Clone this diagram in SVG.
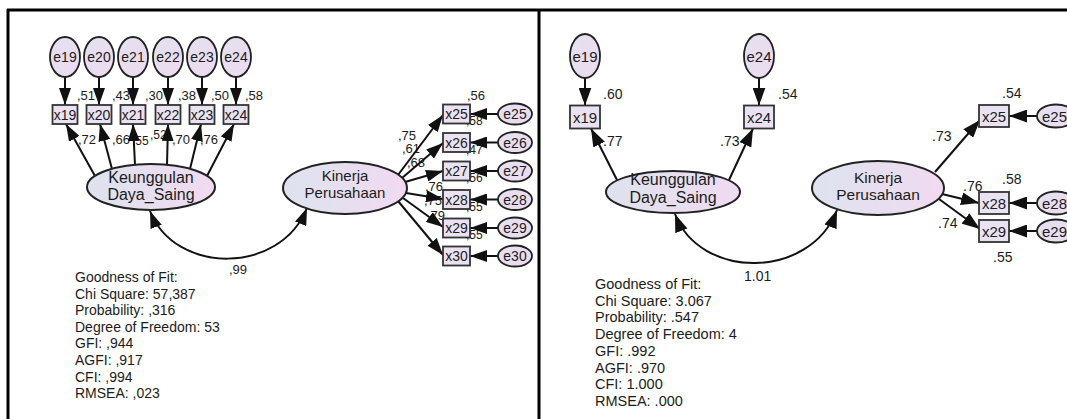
<svg xmlns="http://www.w3.org/2000/svg" width="1067" height="419" viewBox="0 0 1067 419">
<defs>
<style>
text{font-family:"Liberation Sans",Arial,sans-serif;fill:#1c1c1c}
.lat{stroke:#222;stroke-width:2}
.box{fill:#e9e2f3;stroke:#333;stroke-width:1.8}
.err{fill:url(#eg);stroke:#222;stroke-width:1.8}
.ln{fill:none;stroke:#111;stroke-width:2}
.nt{text-anchor:middle}
.lbl{font-size:13px}
.lblr{font-size:14px}
.fit{font-size:14px}
.fitr{font-size:14.5px}
.frame{stroke:#000;stroke-width:3;fill:none}
</style>
<linearGradient id="lg" x1="0" y1="0" x2="1" y2="0">
<stop offset="0" stop-color="#dde3ee"/>
<stop offset="1" stop-color="#f1daf1"/>
</linearGradient>
<linearGradient id="eg" x1="0" y1="0" x2="1" y2="1">
<stop offset="0" stop-color="#e3e1ef"/>
<stop offset="1" stop-color="#eedaf0"/>
</linearGradient>
<marker id="a" viewBox="0 0 17 12" markerWidth="17" markerHeight="12" refX="17" refY="6" orient="auto-start-reverse" markerUnits="userSpaceOnUse">
<path d="M0,0L17,6L0,12z" fill="#111"/>
</marker>
<marker id="b" viewBox="0 0 18 13" markerWidth="18" markerHeight="13" refX="18" refY="6.5" orient="auto-start-reverse" markerUnits="userSpaceOnUse">
<path d="M0,0L18,6.5L0,13z" fill="#111"/>
</marker>
</defs>

<g id="frame">
<line class="frame" x1="7" y1="10" x2="1067" y2="10"/>
<line class="frame" x1="8" y1="9" x2="8" y2="419"/>
<line class="frame" x1="539" y1="9" x2="539" y2="419"/>
</g>

<g id="labels-left" class="lbl">
<text x="77" y="100">,51</text>
<text x="112" y="100">,43</text>
<text x="145" y="100">,30</text>
<text x="178" y="100">,38</text>
<text x="211" y="100">,50</text>
<text x="245" y="100">,58</text>
<text x="78" y="144">,72</text>
<text x="112" y="144">,66</text>
<text x="132" y="145" font-size="12">,55</text>
<text x="150" y="139" font-size="12">,52</text>
<text x="172" y="144">,70</text>
<text x="200" y="144">,76</text>
<text x="467" y="100">,56</text>
<text x="398" y="140">,75</text>
<text x="402" y="153">,61</text>
<text x="407" y="167">,68</text>
<text x="425" y="191">,76</text>
<text x="424" y="205">,75</text>
<text x="427" y="220">,79</text>
<text x="466" y="125" font-size="12">,58</text>
<text x="466" y="154" font-size="12">,47</text>
<text x="466" y="182" font-size="12">,56</text>
<text x="466" y="211" font-size="12">,55</text>
<text x="466" y="239" font-size="12">,55</text>
<text x="229" y="274">,99</text>
</g>

<g id="labels-right" class="lblr">
<text x="603" y="99">.60</text>
<text x="778" y="99">.54</text>
<text x="603" y="146">.77</text>
<text x="720" y="146">.73</text>
<text x="1002" y="98">.54</text>
<text x="932" y="141">.73</text>
<text x="963" y="191">.76</text>
<text x="1002" y="184">.58</text>
<text x="938" y="228">.74</text>
<text x="993" y="262">.55</text>
<text x="744" y="281">1.01</text>
</g>

<g id="connectors">
<line class="ln" x1="65" y1="77" x2="65" y2="105" marker-end="url(#a)"/>
<line class="ln" x1="99" y1="77" x2="99" y2="105" marker-end="url(#a)"/>
<line class="ln" x1="133" y1="77" x2="133" y2="105" marker-end="url(#a)"/>
<line class="ln" x1="168" y1="77" x2="168" y2="105" marker-end="url(#a)"/>
<line class="ln" x1="202" y1="77" x2="202" y2="105" marker-end="url(#a)"/>
<line class="ln" x1="236" y1="77" x2="236" y2="105" marker-end="url(#a)"/>
<line class="ln" x1="95" y1="176" x2="66" y2="124" marker-end="url(#a)"/>
<line class="ln" x1="112" y1="169" x2="100" y2="124" marker-end="url(#a)"/>
<line class="ln" x1="135" y1="165" x2="133" y2="124" marker-end="url(#a)"/>
<line class="ln" x1="167" y1="165" x2="168" y2="124" marker-end="url(#a)"/>
<line class="ln" x1="190" y1="169" x2="201" y2="124" marker-end="url(#a)"/>
<line class="ln" x1="207" y1="176" x2="234" y2="124" marker-end="url(#a)"/>
<line class="ln" x1="398" y1="175" x2="443" y2="115" marker-end="url(#a)"/>
<line class="ln" x1="402" y1="178" x2="443" y2="143" marker-end="url(#a)"/>
<line class="ln" x1="405" y1="182" x2="443" y2="171" marker-end="url(#a)"/>
<line class="ln" x1="406" y1="193" x2="443" y2="199" marker-end="url(#a)"/>
<line class="ln" x1="403" y1="198" x2="443" y2="227" marker-end="url(#a)"/>
<line class="ln" x1="398" y1="201" x2="443" y2="255" marker-end="url(#a)"/>
<line class="ln" x1="498" y1="114" x2="470" y2="114" marker-end="url(#a)"/>
<line class="ln" x1="498" y1="142.5" x2="470" y2="142.5" marker-end="url(#a)"/>
<line class="ln" x1="498" y1="171" x2="470" y2="171" marker-end="url(#a)"/>
<line class="ln" x1="498" y1="199.5" x2="470" y2="199.5" marker-end="url(#a)"/>
<line class="ln" x1="498" y1="228" x2="470" y2="228" marker-end="url(#a)"/>
<line class="ln" x1="498" y1="256" x2="470" y2="256" marker-end="url(#a)"/>
<path class="ln" d="M150,211 C175,275 280,275 307,208" marker-start="url(#a)" marker-end="url(#a)"/>
<line class="ln" x1="585" y1="78" x2="585" y2="105.5" marker-end="url(#b)"/>
<line class="ln" x1="759" y1="78" x2="759" y2="105.5" marker-end="url(#b)"/>
<line class="ln" x1="617" y1="180" x2="591" y2="128.5" marker-end="url(#b)"/>
<line class="ln" x1="729" y1="180" x2="753" y2="128.5" marker-end="url(#b)"/>
<line class="ln" x1="935" y1="172" x2="980" y2="120" marker-end="url(#b)"/>
<line class="ln" x1="942" y1="194" x2="979" y2="203" marker-end="url(#b)"/>
<line class="ln" x1="939" y1="199" x2="980" y2="229" marker-end="url(#b)"/>
<line class="ln" x1="1037" y1="116" x2="1009" y2="116" marker-end="url(#b)"/>
<line class="ln" x1="1037" y1="203" x2="1009" y2="203" marker-end="url(#b)"/>
<line class="ln" x1="1037" y1="231" x2="1009" y2="231" marker-end="url(#b)"/>
<path class="ln" d="M675,214 C700,280 810,280 837,210" marker-start="url(#b)" marker-end="url(#b)"/>
</g>

<g id="L-e19"><ellipse class="err" cx="65" cy="57" rx="15" ry="20"/><text class="nt" x="65" y="62" font-size="14">e19</text></g>
<g id="L-e20"><ellipse class="err" cx="99" cy="57" rx="15" ry="20"/><text class="nt" x="99" y="62" font-size="14">e20</text></g>
<g id="L-e21"><ellipse class="err" cx="133" cy="57" rx="15" ry="20"/><text class="nt" x="133" y="62" font-size="14">e21</text></g>
<g id="L-e22"><ellipse class="err" cx="168" cy="57" rx="15" ry="20"/><text class="nt" x="168" y="62" font-size="14">e22</text></g>
<g id="L-e23"><ellipse class="err" cx="202" cy="57" rx="15" ry="20"/><text class="nt" x="202" y="62" font-size="14">e23</text></g>
<g id="L-e24"><ellipse class="err" cx="236" cy="57" rx="15" ry="20"/><text class="nt" x="236" y="62" font-size="14">e24</text></g>

<g id="L-x19"><rect class="box" x="52.5" y="105" width="25" height="19"/><text class="nt" x="65" y="119.5" font-size="14">x19</text></g>
<g id="L-x20"><rect class="box" x="86.5" y="105" width="25" height="19"/><text class="nt" x="99" y="119.5" font-size="14">x20</text></g>
<g id="L-x21"><rect class="box" x="120.5" y="105" width="25" height="19"/><text class="nt" x="133" y="119.5" font-size="14">x21</text></g>
<g id="L-x22"><rect class="box" x="155.5" y="105" width="25" height="19"/><text class="nt" x="168" y="119.5" font-size="14">x22</text></g>
<g id="L-x23"><rect class="box" x="189.5" y="105" width="25" height="19"/><text class="nt" x="202" y="119.5" font-size="14">x23</text></g>
<g id="L-x24"><rect class="box" x="223.5" y="105" width="25" height="19"/><text class="nt" x="236" y="119.5" font-size="14">x24</text></g>

<g id="L-keunggulan"><ellipse class="lat" fill="url(#lg)" cx="151" cy="187" rx="64" ry="23"/>
<text class="nt" x="151" y="183" font-size="16">Keunggulan</text>
<text class="nt" x="151" y="200" font-size="16">Daya_Saing</text></g>

<g id="L-kinerja"><ellipse class="lat" fill="url(#lg)" cx="345" cy="188" rx="62" ry="26"/>
<text class="nt" x="345" y="181" font-size="15">Kinerja</text>
<text class="nt" x="345" y="198" font-size="15">Perusahaan</text></g>

<g id="L-x25"><rect class="box" x="443" y="104.5" width="27" height="19"/><text class="nt" x="456.5" y="119" font-size="14">x25</text></g>
<g id="L-x26"><rect class="box" x="443" y="133" width="27" height="19"/><text class="nt" x="456.5" y="147.5" font-size="14">x26</text></g>
<g id="L-x27"><rect class="box" x="443" y="161.5" width="27" height="19"/><text class="nt" x="456.5" y="176" font-size="14">x27</text></g>
<g id="L-x28"><rect class="box" x="443" y="190" width="27" height="19"/><text class="nt" x="456.5" y="204.5" font-size="14">x28</text></g>
<g id="L-x29"><rect class="box" x="443" y="218.5" width="27" height="19"/><text class="nt" x="456.5" y="233" font-size="14">x29</text></g>
<g id="L-x30"><rect class="box" x="443" y="246.5" width="27" height="19"/><text class="nt" x="456.5" y="261" font-size="14">x30</text></g>

<g id="L-e25"><ellipse class="err" cx="515" cy="114" rx="17" ry="10.5"/><text class="nt" x="515" y="119" font-size="14">e25</text></g>
<g id="L-e26"><ellipse class="err" cx="515" cy="142.5" rx="17" ry="10.5"/><text class="nt" x="515" y="147.5" font-size="14">e26</text></g>
<g id="L-e27"><ellipse class="err" cx="515" cy="171" rx="17" ry="10.5"/><text class="nt" x="515" y="176" font-size="14">e27</text></g>
<g id="L-e28"><ellipse class="err" cx="515" cy="199.5" rx="17" ry="10.5"/><text class="nt" x="515" y="204.5" font-size="14">e28</text></g>
<g id="L-e29"><ellipse class="err" cx="515" cy="228" rx="17" ry="10.5"/><text class="nt" x="515" y="233" font-size="14">e29</text></g>
<g id="L-e30"><ellipse class="err" cx="515" cy="256" rx="17" ry="10.5"/><text class="nt" x="515" y="261" font-size="14">e30</text></g>

<g id="L-fit" class="fit">
<text x="75" y="282">Goodness of Fit:</text>
<text x="75" y="298.6">Chi Square: 57,387</text>
<text x="75" y="315.2">Probability: ,316</text>
<text x="75" y="331.8">Degree of Freedom: 53</text>
<text x="75" y="348.4">GFI: ,944</text>
<text x="75" y="365">AGFI: ,917</text>
<text x="75" y="381.6">CFI: ,994</text>
<text x="75" y="398.2">RMSEA: ,023</text>
</g>

<g id="R-e19"><ellipse class="err" cx="585" cy="56" rx="15" ry="22"/><text class="nt" x="585" y="61.5" font-size="15">e19</text></g>
<g id="R-e24"><ellipse class="err" cx="759" cy="56" rx="15" ry="22"/><text class="nt" x="759" y="61.5" font-size="15">e24</text></g>
<g id="R-x19"><rect class="box" x="570" y="105.5" width="30" height="23"/><text class="nt" x="585" y="122.5" font-size="15">x19</text></g>
<g id="R-x24"><rect class="box" x="744" y="105.5" width="30" height="23"/><text class="nt" x="759" y="122.5" font-size="15">x24</text></g>

<g id="R-keunggulan"><ellipse class="lat" fill="url(#lg)" cx="673" cy="192" rx="67" ry="21"/>
<text class="nt" x="673" y="185" font-size="16">Keunggulan</text>
<text class="nt" x="673" y="203" font-size="16">Daya_Saing</text></g>

<g id="R-kinerja"><ellipse class="lat" fill="url(#lg)" cx="878" cy="188" rx="66" ry="27"/>
<text class="nt" x="878" y="183" font-size="15.5">Kinerja</text>
<text class="nt" x="878" y="200" font-size="15.5">Perusahaan</text></g>

<g id="R-x25"><rect class="box" x="979" y="105" width="30" height="22"/><text class="nt" x="994" y="121.5" font-size="15">x25</text></g>
<g id="R-x28"><rect class="box" x="979" y="192" width="30" height="22"/><text class="nt" x="994" y="208.5" font-size="15">x28</text></g>
<g id="R-x29"><rect class="box" x="979" y="220" width="30" height="22"/><text class="nt" x="994" y="236.5" font-size="15">x29</text></g>

<g id="R-e25"><ellipse class="err" cx="1056" cy="116" rx="19" ry="11.5"/><text x="1042" y="121.5" font-size="15">e25</text></g>
<g id="R-e28"><ellipse class="err" cx="1056" cy="203" rx="19" ry="11.5"/><text x="1042" y="208.5" font-size="15">e28</text></g>
<g id="R-e29"><ellipse class="err" cx="1056" cy="231" rx="19" ry="11.5"/><text x="1042" y="236.5" font-size="15">e29</text></g>

<g id="R-fit" class="fitr">
<text x="595" y="289">Goodness of Fit:</text>
<text x="595" y="305.7">Chi Square: 3.067</text>
<text x="595" y="322.4">Probability: .547</text>
<text x="595" y="339.1">Degree of Freedom: 4</text>
<text x="595" y="355.8">GFI: .992</text>
<text x="595" y="372.5">AGFI: .970</text>
<text x="595" y="389.2">CFI: 1.000</text>
<text x="595" y="405.9">RMSEA: .000</text>
</g>
</svg>
